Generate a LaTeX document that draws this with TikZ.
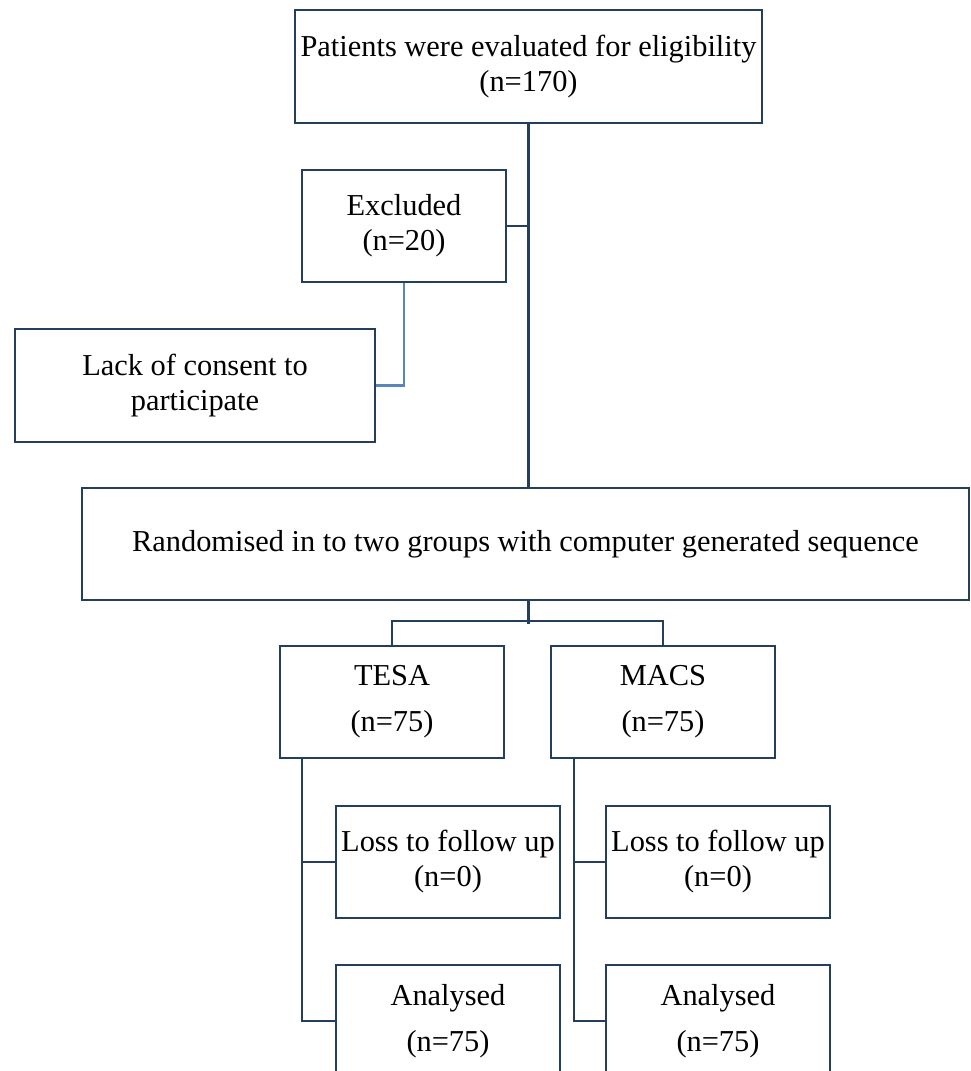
\documentclass[tikz,border=0pt]{standalone}
\usepackage{fontspec}
\setmainfont{Liberation Serif}
\definecolor{boxc}{RGB}{36,62,94}
\definecolor{lightc}{RGB}{88,134,184}
\begin{document}
\begin{tikzpicture}[x=1pt,y=-1pt,
  flowbox/.style={draw=boxc,line width=2.3pt,rectangle,inner sep=0pt,align=center,
    text=black,font=\fontsize{30.4}{35}\selectfont},
  widebox/.style={flowbox,font=\fontsize{30.4}{46}\selectfont},
  link/.style={draw=boxc,line width=2.3pt},
  lightlink/.style={draw=lightc,line width=2.3pt}]
\useasboundingbox (0,0) rectangle (971,1071);
\clip (0,0) rectangle (971,1071);
\node[flowbox,minimum width=467pt,minimum height=113pt] (top) at (528.5,66.5)
  {Patients were evaluated for eligibility\\(n=170)};
\node[flowbox,minimum width=204pt,minimum height=112pt] (excl) at (404,226)
  {Excluded\\(n=20)};
\node[flowbox,minimum width=360pt,minimum height=113pt] (lack) at (195,385.5)
  {Lack of consent to\\participate};
\node[flowbox,minimum width=887pt,minimum height=112pt] (rand) at (525.5,544)
  {Randomised in to two groups with computer generated sequence};
\node[widebox,minimum width=224pt,minimum height=112pt] (tesa) at (392,702)
  {TESA\\(n=75)};
\node[widebox,minimum width=224pt,minimum height=112pt] (macs) at (663,702)
  {MACS\\(n=75)};
\node[flowbox,minimum width=224pt,minimum height=112pt] (lossL) at (448,862)
  {Loss to follow up\\(n=0)};
\node[flowbox,minimum width=224pt,minimum height=112pt] (lossR) at (718,862)
  {Loss to follow up\\(n=0)};
\node[widebox,minimum width=224pt,minimum height=112pt] (anaL) at (448,1021)
  {Analysed\\(n=75)};
\node[widebox,minimum width=224pt,minimum height=112pt] (anaR) at (718,1021)
  {Analysed\\(n=75)};
% connectors
\draw[link] (top.south) -- (top.south |- rand.north);
\draw[link] (excl.east) -- (excl.east -| top.south);
\draw[lightlink] (excl.south) |- (lack.east);
\draw[link] (top.south |- rand.south) -- ++(0,23);
\draw[link] (tesa.north) -- ++(0,-24) -| (macs.north);
\coordinate (railL) at ([xshift=23pt]tesa.south west);
\coordinate (railR) at ([xshift=24pt]macs.south west);
\draw[link] (railL) |- (anaL.west);
\draw[link] (railL |- lossL.west) -- (lossL.west);
\draw[link] (railR) |- (anaR.west);
\draw[link] (railR |- lossR.west) -- (lossR.west);
\end{tikzpicture}
\end{document}
